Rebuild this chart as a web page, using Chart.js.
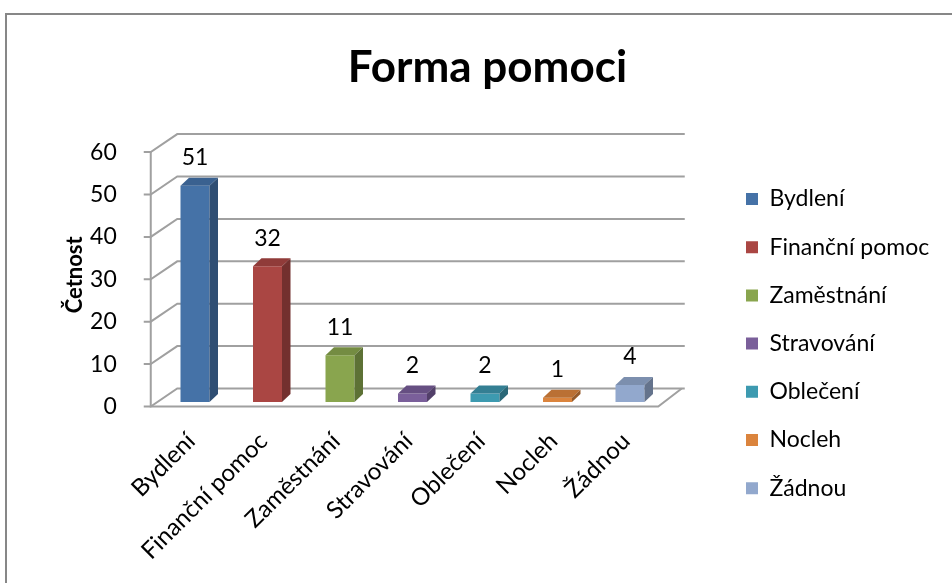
<!DOCTYPE html>
<html lang="cs">
<head>
<meta charset="UTF-8">
<title>Forma pomoci</title>
<script src="https://cdn.jsdelivr.net/npm/chart.js"></script>
<style>
  body { margin: 0; background: #fff; }
  .wrap { position: relative; width: 952px; height: 583px; }
</style>
</head>
<body>
<div class="wrap"><canvas id="chart"></canvas></div>
<script>
// data
const categories = ['Bydlení', 'Finanční pomoc', 'Zaměstnání', 'Stravování', 'Oblečení', 'Nocleh', 'Žádnou'];
const counts = [51, 32, 11, 2, 2, 1, 4];
const yTicks = [0, 10, 20, 30, 40, 50, 60];

// colours (front face, top face, side face)
const frontColors = ['#4572A7', '#AA4643', '#89A54E', '#7A5F9A', '#3D9AB0', '#DB843D', '#92A8CD'];
const topColors   = ['#3A6190', '#903B39', '#748C42', '#664F82', '#347F93', '#BA7034', '#7C8FAE'];
const sideColors  = ['#2F4E73', '#73302E', '#5D7135', '#523F69', '#2A6878', '#955A2A', '#64738C'];

const FONT = 'Lato';
const TICK_SIZE = 23;
const XLABEL_SIZE = 24;
const LEGEND_SIZE = 23;

// 3d offsets relative to the plane the bars sit in
const FRONT = { dx: -8, dy: 4.5 };
const BACK = { dx: 18.5, dy: -13.5 };
const DEPTH = { dx: 8.5, dy: -8 };

// layout targets (px)
const AREA_LEFT = 158.75, AREA_RIGHT = 666.25, AREA_TOP = 147.6, AREA_BOTTOM = 402;
const LEGEND_PAD = 25.2, LEGEND_BOX = 12, LEGEND_BOX_X = 746;
const W = 952, H = 583;

// legend width -> right padding, so the legend box lands where it should
const mctx = document.createElement('canvas').getContext('2d');
mctx.font = LEGEND_SIZE + 'px ' + FONT;
const textW = Math.max(...categories.map(c => mctx.measureText(c).width));
const legendW = LEGEND_PAD + LEGEND_BOX + LEGEND_SIZE / 2 + textW + 10;
const legendLeft = LEGEND_BOX_X - LEGEND_PAD;
const padRight = Math.max(0, W - legendLeft - legendW);
const padLeft = padRight + 23;

const walls = {
  id: 'walls',
  beforeDraw(chart) {
    const ctx = chart.ctx;
    ctx.save();
    ctx.strokeStyle = '#878787';
    ctx.lineWidth = 2;
    ctx.beginPath();
    ctx.moveTo(6, H);
    ctx.lineTo(6, 14);
    ctx.lineTo(W, 14);
    ctx.stroke();
    ctx.restore();
  },
  beforeDatasetsDraw(chart) {
    const { ctx, chartArea: a, scales: { y } } = chart;
    ctx.save();
    ctx.strokeStyle = '#a0a0a0';
    ctx.lineWidth = 2;
    yTicks.forEach(v => {
      const py = y.getPixelForValue(v);
      ctx.beginPath();
      ctx.moveTo(a.left + FRONT.dx - 7, py + FRONT.dy);
      ctx.lineTo(a.left + FRONT.dx, py + FRONT.dy);
      ctx.lineTo(a.left + BACK.dx, py + BACK.dy);
      ctx.lineTo(a.right + BACK.dx, py + BACK.dy);
      ctx.stroke();
    });
    const top = y.getPixelForValue(yTicks[yTicks.length - 1]);
    const bot = y.getPixelForValue(0);
    ctx.beginPath();
    ctx.moveTo(a.left + FRONT.dx, top + FRONT.dy);
    ctx.lineTo(a.left + FRONT.dx, bot + FRONT.dy);
    ctx.lineTo(a.right + FRONT.dx, bot + FRONT.dy);
    ctx.lineTo(a.right + BACK.dx - 3, bot + BACK.dy);
    ctx.stroke();
    ctx.restore();
  },
  afterDatasetsDraw(chart) {
    const ctx = chart.ctx;
    const meta = chart.getDatasetMeta(0);
    ctx.save();
    meta.data.forEach((bar, i) => {
      const half = bar.width / 2;
      const l = bar.x - half, r = bar.x + half, t = bar.y, b = bar.base;
      ctx.fillStyle = topColors[i];
      ctx.beginPath();
      ctx.moveTo(l, t);
      ctx.lineTo(l + DEPTH.dx, t + DEPTH.dy);
      ctx.lineTo(r + DEPTH.dx, t + DEPTH.dy);
      ctx.lineTo(r, t);
      ctx.closePath();
      ctx.fill();
      ctx.fillStyle = sideColors[i];
      ctx.beginPath();
      ctx.moveTo(r, t);
      ctx.lineTo(r + DEPTH.dx, t + DEPTH.dy);
      ctx.lineTo(r + DEPTH.dx, b + DEPTH.dy);
      ctx.lineTo(r, b);
      ctx.closePath();
      ctx.fill();
      // value label
      ctx.fillStyle = '#000';
      ctx.font = TICK_SIZE + 'px ' + FONT;
      ctx.textAlign = 'center';
      ctx.textBaseline = 'middle';
      ctx.fillText(String(counts[i]), bar.x, t - 28);
    });
    ctx.restore();
  }
};

new Chart(document.getElementById('chart'), {
  type: 'bar',
  data: {
    labels: categories,
    datasets: [{
      data: counts,
      backgroundColor: frontColors,
      borderWidth: 0,
      barPercentage: 0.4,
      categoryPercentage: 1
    }]
  },
  options: {
    responsive: true,
    maintainAspectRatio: false,
    animation: false,
    layout: { padding: { left: padLeft, right: padRight, top: 0, bottom: 0 } },
    plugins: {
      tooltip: { enabled: false },
      title: {
        display: true,
        text: 'Forma pomoci',
        color: '#000',
        font: { family: FONT, size: 44, weight: 'bold' },
        padding: { top: 41.6, bottom: AREA_TOP - 41.6 - 44 * 1.2 }
      },
      legend: {
        position: 'right',
        align: 'start',
        maxWidth: 400,
        title: { display: true, text: '', font: { size: 10 }, padding: { top: 199 - LEGEND_SIZE / 2 - LEGEND_PAD - 12, bottom: 0 } },
        labels: {
          color: '#000',
          font: { family: FONT, size: LEGEND_SIZE },
          boxWidth: LEGEND_BOX,
          boxHeight: LEGEND_BOX,
          padding: LEGEND_PAD,
          generateLabels: () => categories.map((c, i) => ({
            text: c,
            fillStyle: frontColors[i],
            strokeStyle: frontColors[i],
            lineWidth: 0,
            hidden: false,
            index: i,
            fontColor: '#000'
          }))
        }
      }
    },
    scales: {
      x: {
        grid: { display: false },
        border: { display: false },
        ticks: {
          color: '#000',
          font: { family: FONT, size: XLABEL_SIZE },
          minRotation: 45,
          maxRotation: 45,
          padding: 17,
          labelOffset: -4
        },
        afterFit: s => { s.height = H - AREA_BOTTOM; }
      },
      y: {
        min: 0,
        max: 60,
        grid: { display: false },
        border: { display: false },
        ticks: {
          stepSize: 10,
          color: '#000',
          font: { family: FONT, size: TICK_SIZE },
          padding: 34,
          labelOffset: 4.5
        },
        title: {
          display: true,
          text: 'Četnost',
          color: '#000',
          font: { family: FONT, size: 22, weight: 'bold' },
          padding: { top: 74.5 - padLeft - 13.2, bottom: 0 }
        },
        afterFit: s => { s.width = AREA_LEFT - padLeft; }
      },
      gap: {
        position: 'right',
        display: true,
        grid: { display: false },
        border: { display: false },
        ticks: { display: false },
        afterFit: s => { s.width = legendLeft - AREA_RIGHT; }
      }
    }
  },
  plugins: [walls]
});
</script>
</body>
</html>
